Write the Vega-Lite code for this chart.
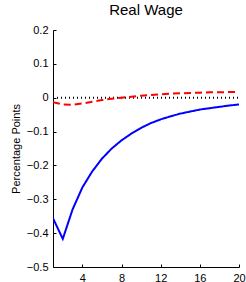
{
  "$schema": "https://vega.github.io/schema/vega-lite/v6.json",
  "width": 186,
  "height": 237,
  "autosize": {"type": "none"},
  "padding": {"left": 53, "top": 30, "right": 7, "bottom": 15},
  "background": "white",
  "config": {
    "font": "Liberation Sans",
    "view": {"stroke": null}
  },
  "title": {"text": "Real Wage", "fontSize": 15, "fontWeight": "normal", "font": "Liberation Sans", "color": "black", "anchor": "middle", "offset": 6},
  "data": {"values": [
    {"h": 1, "s": "zero", "v": 0}, {"h": 20, "s": "zero", "v": 0},
    {"h": 1, "s": "wage", "v": -0.356}, {"h": 2, "s": "wage", "v": -0.417}, {"h": 3, "s": "wage", "v": -0.33}, {"h": 4, "s": "wage", "v": -0.265}, {"h": 5, "s": "wage", "v": -0.218}, {"h": 6, "s": "wage", "v": -0.18}, {"h": 7, "s": "wage", "v": -0.15}, {"h": 8, "s": "wage", "v": -0.126}, {"h": 9, "s": "wage", "v": -0.106}, {"h": 10, "s": "wage", "v": -0.089}, {"h": 11, "s": "wage", "v": -0.075}, {"h": 12, "s": "wage", "v": -0.064}, {"h": 13, "s": "wage", "v": -0.055}, {"h": 14, "s": "wage", "v": -0.047}, {"h": 15, "s": "wage", "v": -0.041}, {"h": 16, "s": "wage", "v": -0.035}, {"h": 17, "s": "wage", "v": -0.031}, {"h": 18, "s": "wage", "v": -0.027}, {"h": 19, "s": "wage", "v": -0.023}, {"h": 20, "s": "wage", "v": -0.02},
    {"h": 1, "s": "alt", "v": -0.013}, {"h": 2, "s": "alt", "v": -0.02}, {"h": 3, "s": "alt", "v": -0.021}, {"h": 4, "s": "alt", "v": -0.017}, {"h": 5, "s": "alt", "v": -0.012}, {"h": 6, "s": "alt", "v": -0.007}, {"h": 7, "s": "alt", "v": -0.003}, {"h": 8, "s": "alt", "v": 0.0}, {"h": 9, "s": "alt", "v": 0.003}, {"h": 10, "s": "alt", "v": 0.006}, {"h": 11, "s": "alt", "v": 0.008}, {"h": 12, "s": "alt", "v": 0.01}, {"h": 13, "s": "alt", "v": 0.012}, {"h": 14, "s": "alt", "v": 0.013}, {"h": 15, "s": "alt", "v": 0.014}, {"h": 16, "s": "alt", "v": 0.015}, {"h": 17, "s": "alt", "v": 0.016}, {"h": 18, "s": "alt", "v": 0.016}, {"h": 19, "s": "alt", "v": 0.017}, {"h": 20, "s": "alt", "v": 0.017}
  ]},
  "mark": {"type": "line", "clip": true},
  "encoding": {
    "x": {"field": "h", "type": "quantitative", "scale": {"domain": [1, 20], "nice": false, "zero": false}, "axis": {"values": [4, 8, 12, 16, 20], "title": null, "grid": false, "domainColor": "black", "tickColor": "black", "labelColor": "black", "labelFont": "Liberation Sans", "labelFontSize": 11, "tickSize": -3, "labelPadding": 8, "labelOverlap": false, "labelFlush": false, "labelBound": false}},
    "y": {"field": "v", "type": "quantitative", "scale": {"domain": [-0.5, 0.2], "nice": false, "zero": false}, "axis": {"values": [-0.5, -0.4, -0.3, -0.2, -0.1, 0, 0.1, 0.2], "labelExpr": "datum.value == 0 ? '0' : format(datum.value, '.1f')", "title": "Percentage Points", "titlePadding": 5, "grid": false, "domainColor": "black", "tickColor": "black", "labelColor": "black", "titleColor": "black", "labelFont": "Liberation Sans", "titleFont": "Liberation Sans", "labelFontSize": 11, "titleFontSize": 11, "titleFontWeight": "normal", "tickSize": -3, "labelPadding": 8, "labelOverlap": false, "labelFlush": false, "labelBound": false}},
    "color": {"field": "s", "type": "nominal", "scale": {"domain": ["wage", "alt", "zero"], "range": ["#0000ff", "#ff0000", "#000000"]}, "legend": null},
    "strokeDash": {"field": "s", "type": "nominal", "scale": {"domain": ["wage", "alt", "zero"], "range": [[1, 0], [7, 4], [1, 3]]}, "legend": null},
    "strokeWidth": {"field": "s", "type": "nominal", "scale": {"domain": ["wage", "alt", "zero"], "range": [2, 2, 1]}, "legend": null},
    "order": {"field": "h", "type": "quantitative"}
  }
}
